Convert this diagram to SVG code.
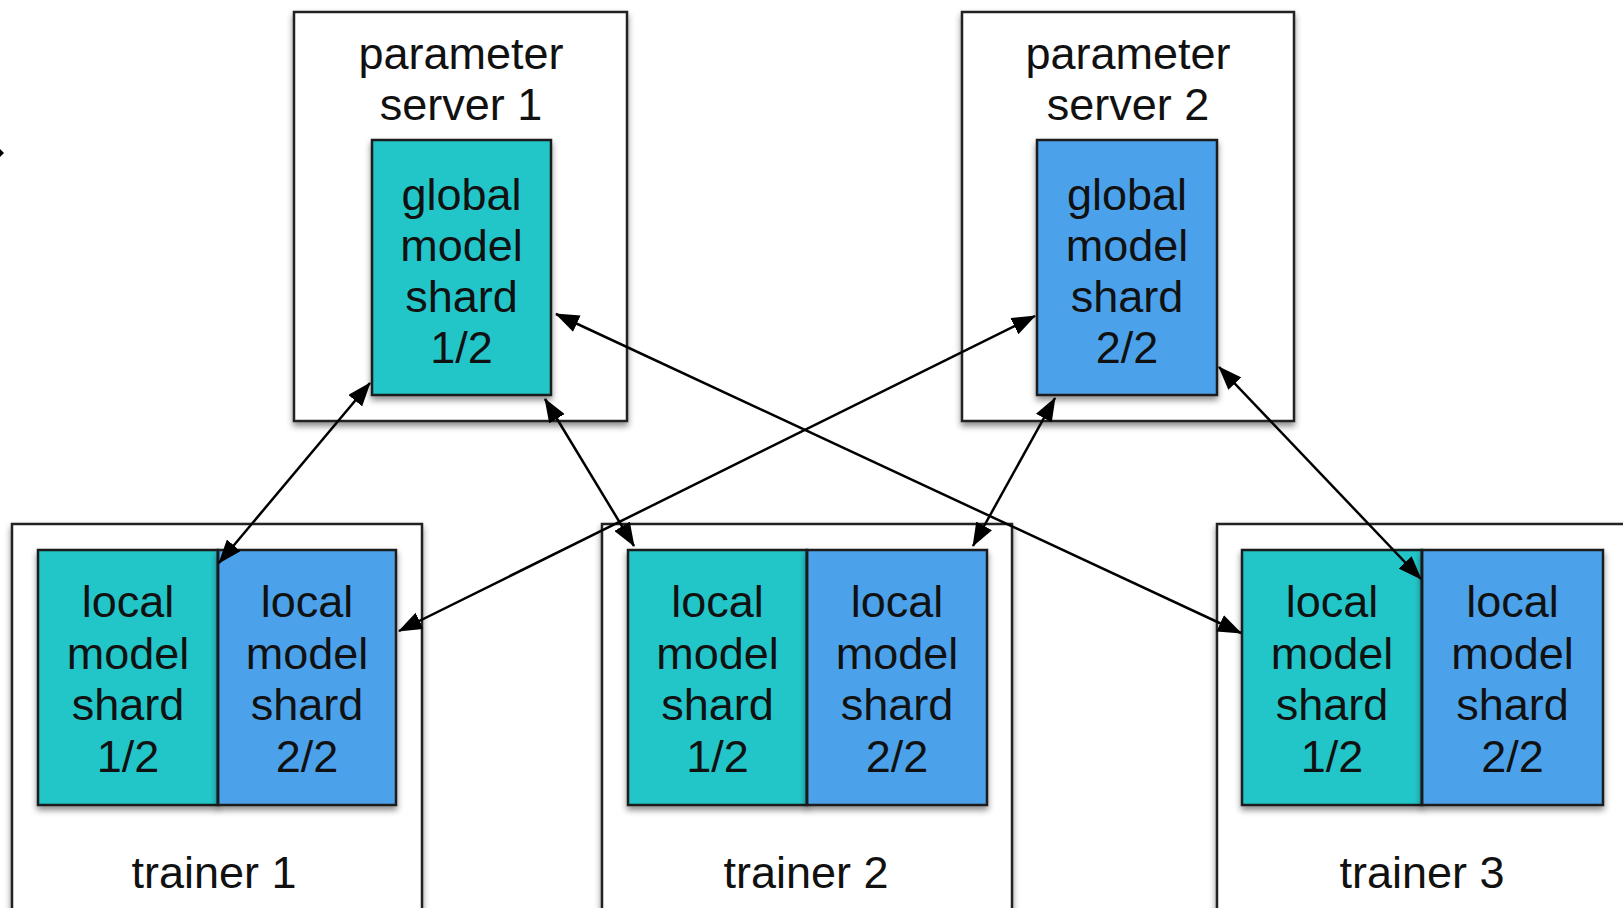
<svg xmlns="http://www.w3.org/2000/svg" width="1623" height="908" viewBox="0 0 1623 908">
  <defs>
    <filter id="shadow" x="-10%" y="-10%" width="120%" height="125%">
      <feDropShadow dx="0" dy="4" stdDeviation="3" flood-color="#000" flood-opacity="0.45"/>
    </filter>
    <marker id="head" viewBox="0 0 24 18" refX="23" refY="9" markerWidth="24" markerHeight="18" markerUnits="userSpaceOnUse" orient="auto-start-reverse">
      <path d="M0,0 L24,9 L0,18 z" fill="#000"/>
    </marker>
  </defs>
  <style>
    .box { fill: #ffffff; stroke: #222; stroke-width: 2.5; filter: url(#shadow); }
    .teal { fill: #21C6C9; stroke: #1a1a1a; stroke-width: 2.5; filter: url(#shadow); }
    .blue { fill: #4CA2EB; stroke: #1a1a1a; stroke-width: 2.5; filter: url(#shadow); }
    .divider { stroke: #1a1a1a; stroke-width: 2.5; }
    text { font-family: "Liberation Sans", Arial, sans-serif; font-size: 45px; fill: #111; text-anchor: middle; }
    .link { stroke: #000; stroke-width: 2.5; fill: none; marker-start: url(#head); marker-end: url(#head); }
  </style>
  <rect width="1623" height="908" fill="#ffffff"/>

  <!-- stray arrowhead tip at the left margin -->
  <path d="M0,149 L4,153 L0,157 z" fill="#000"/>

  <!-- parameter server 1 -->
  <g id="ps1">
    <rect class="box" x="294" y="12" width="333" height="409"/>
    <text x="461" y="69">parameter</text>
    <text x="461" y="120">server 1</text>
    <rect class="teal" x="372" y="140" width="179" height="255"/>
    <text x="461.5" y="210">global</text>
    <text x="461.5" y="261">model</text>
    <text x="461.5" y="312">shard</text>
    <text x="461.5" y="363">1/2</text>
  </g>

  <!-- parameter server 2 -->
  <g id="ps2">
    <rect class="box" x="962" y="12" width="332" height="409"/>
    <text x="1128" y="69">parameter</text>
    <text x="1128" y="120">server 2</text>
    <rect class="blue" x="1037" y="140" width="180" height="255"/>
    <text x="1127" y="210">global</text>
    <text x="1127" y="261">model</text>
    <text x="1127" y="312">shard</text>
    <text x="1127" y="363">2/2</text>
  </g>

  <!-- trainer 1 -->
  <g id="trainer1">
    <rect class="box" x="12" y="524" width="410" height="400"/>
    <rect class="teal" x="38" y="550" width="180" height="255"/>
    <rect class="blue" x="218" y="550" width="178" height="255"/>
    <line class="divider" x1="218" y1="550" x2="218" y2="805"/>
    <text x="128" y="617">local</text>
    <text x="128" y="669">model</text>
    <text x="128" y="720">shard</text>
    <text x="128" y="772">1/2</text>
    <text x="307" y="617">local</text>
    <text x="307" y="669">model</text>
    <text x="307" y="720">shard</text>
    <text x="307" y="772">2/2</text>
    <text x="214" y="888">trainer 1</text>
  </g>

  <!-- trainer 2 -->
  <g id="trainer2">
    <rect class="box" x="602" y="524" width="410" height="400"/>
    <rect class="teal" x="628" y="550" width="179" height="255"/>
    <rect class="blue" x="807" y="550" width="180" height="255"/>
    <line class="divider" x1="807" y1="550" x2="807" y2="805"/>
    <text x="717.5" y="617">local</text>
    <text x="717.5" y="669">model</text>
    <text x="717.5" y="720">shard</text>
    <text x="717.5" y="772">1/2</text>
    <text x="897" y="617">local</text>
    <text x="897" y="669">model</text>
    <text x="897" y="720">shard</text>
    <text x="897" y="772">2/2</text>
    <text x="806" y="888">trainer 2</text>
  </g>

  <!-- trainer 3 -->
  <g id="trainer3">
    <rect class="box" x="1217" y="524" width="412" height="400"/>
    <rect class="teal" x="1242" y="550" width="180" height="255"/>
    <rect class="blue" x="1422" y="550" width="181" height="255"/>
    <line class="divider" x1="1422" y1="550" x2="1422" y2="805"/>
    <text x="1332" y="617">local</text>
    <text x="1332" y="669">model</text>
    <text x="1332" y="720">shard</text>
    <text x="1332" y="772">1/2</text>
    <text x="1512.5" y="617">local</text>
    <text x="1512.5" y="669">model</text>
    <text x="1512.5" y="720">shard</text>
    <text x="1512.5" y="772">2/2</text>
    <text x="1422" y="888">trainer 3</text>
  </g>

  <!-- push/pull links between shards -->
  <g id="connectors">
    <line class="link" x1="370" y1="383" x2="219" y2="563"/>
    <line class="link" x1="545" y1="399" x2="634" y2="546"/>
    <line class="link" x1="556" y1="314" x2="1241" y2="633"/>
    <line class="link" x1="1035" y1="316" x2="399" y2="631"/>
    <line class="link" x1="1055" y1="398" x2="973" y2="546"/>
    <line class="link" x1="1219" y1="367" x2="1421" y2="579"/>
  </g>
</svg>
